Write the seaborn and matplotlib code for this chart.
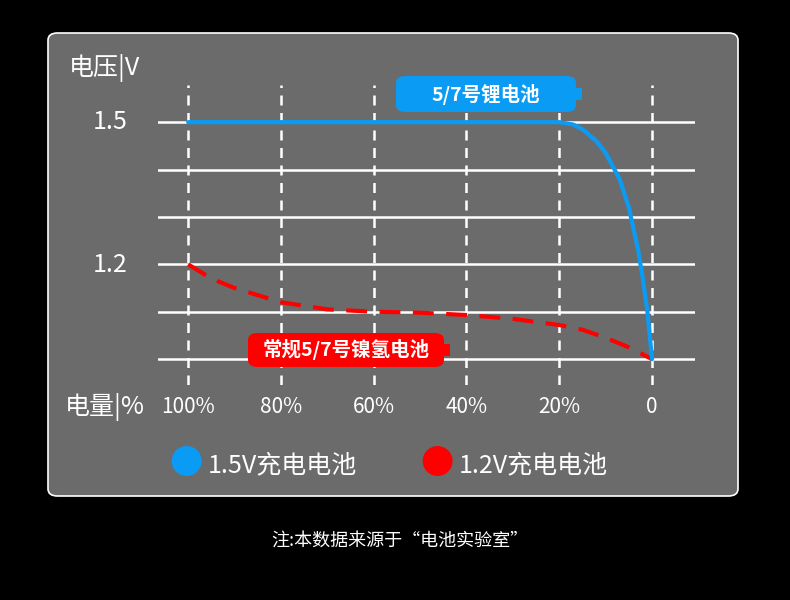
import matplotlib
matplotlib.use("Agg")
import matplotlib.pyplot as plt
import seaborn as sns
import pandas as pd
from matplotlib.patches import FancyBboxPatch, Rectangle

sns.set_theme(style="white")
plt.rcParams['font.family'] = ['Noto Sans CJK SC', 'DejaVu Sans']

x_ticks = [0, 20, 40, 60, 80, 100]
x_labels = ["100%", "80%", "60%", "40%", "20%", "0"]
y_grid = [1.0, 1.1, 1.2, 1.3, 1.4, 1.5]
y_labels = {1.5: "1.5", 1.2: "1.2"}

# x = discharged amount (100% left at x=0)
li_x = [0, 20, 40, 60, 80, 83, 85, 88, 90, 93, 95, 97, 98, 99, 100]
li_v = [1.5, 1.5, 1.5, 1.5, 1.5, 1.495, 1.485, 1.46, 1.435, 1.38, 1.32, 1.23, 1.17, 1.10, 1.0]
ni_x = [0, 5, 10, 20, 30, 40, 50, 60, 70, 80, 85, 90, 95, 100]
ni_v = [1.2, 1.17, 1.15, 1.12, 1.105, 1.10, 1.098, 1.093, 1.085, 1.072, 1.062, 1.045, 1.025, 1.0]

fig = plt.figure(figsize=(7.9, 6), dpi=100, facecolor="black")
panel = FancyBboxPatch((48/790, 104/600), 690/790, 463/600, boxstyle="round,pad=0,rounding_size=0.012",
                       transform=fig.transFigure, facecolor="#6b6b6b", edgecolor="white", lw=1.2, zorder=-10)
fig.patches.append(panel)

ax = fig.add_axes([0.2, 0.358, 0.68, 0.5])
ax.set_facecolor("none")
ax.patch.set_alpha(0)
for s in ax.spines.values():
    s.set_visible(False)
ax.set_xlim(-6.5, 109.3)
ax.set_ylim(0.945, 1.578)

for y in y_grid:
    ax.axhline(y, color="white", lw=1.8, zorder=1)
for x in x_ticks:
    ax.axvline(x, color="white", lw=1.8, ls=(0, (4, 3)), zorder=1)

blue = "#0a9cf5"
red = "#ff0000"
sns.lineplot(x=ni_x, y=ni_v, ax=ax, color=red, lw=3, linestyle=(0, (5, 3)), zorder=3)
sns.lineplot(x=li_x, y=li_v, ax=ax, color=blue, lw=3, zorder=4)

ax.set_xticks([])
ax.set_yticks([])
for x, lab in zip(x_ticks, x_labels):
    fig.text((188 + x * 4.64) / 790, 1 - 407 / 600, lab, color="white", fontsize=15, ha="center", va="center")
for y, lab in y_labels.items():
    fig.text(110 / 790, 1 - (122 + (1.5 - y) * 477) / 600, lab, color="white", fontsize=18, ha="center", va="center")
fig.text(104 / 790, 1 - 68 / 600, "电压|V", color="white", fontsize=18, ha="center", va="center")
fig.text(105 / 790, 1 - 407 / 600, "电量|%", color="white", fontsize=18, ha="center", va="center")

def badge(cx, cy, w, h, text, color):
    fig.patches.append(FancyBboxPatch(((cx - w / 2) / 790, 1 - (cy + h / 2) / 600), w / 790, h / 600,
                                      boxstyle="round,pad=0,rounding_size=0.012", transform=fig.transFigure,
                                      facecolor=color, edgecolor="none", zorder=5))
    fig.patches.append(Rectangle(((cx + w / 2) / 790, 1 - (cy + 6) / 600), 6 / 790, 12 / 600,
                                 transform=fig.transFigure, facecolor=color, edgecolor="none", zorder=5))
    fig.text(cx / 790, 1 - cy / 600, text, color="white", fontsize=14, fontweight="bold",
             ha="center", va="center", zorder=6)

badge(486, 94, 180, 36, "5/7号锂电池", blue)
badge(346, 350, 196, 34, "常规5/7号镍氢电池", red)

# legend
for cx, col, lab in [(186, blue, "1.5V充电电池"), (437, red, "1.2V充电电池")]:
    fig.text(cx / 790, 1 - 465 / 600, "●", color=col, fontsize=24, ha="center", va="center")
    fig.text((cx + 22) / 790, 1 - 465 / 600, lab, color="white", fontsize=18, ha="left", va="center")

fig.text(400 / 790, 1 - 541 / 600, "注:本数据来源于“电池实验室”", color="white", fontsize=13, ha="center", va="center")

fig.savefig("out.png", dpi=100, facecolor="black")
